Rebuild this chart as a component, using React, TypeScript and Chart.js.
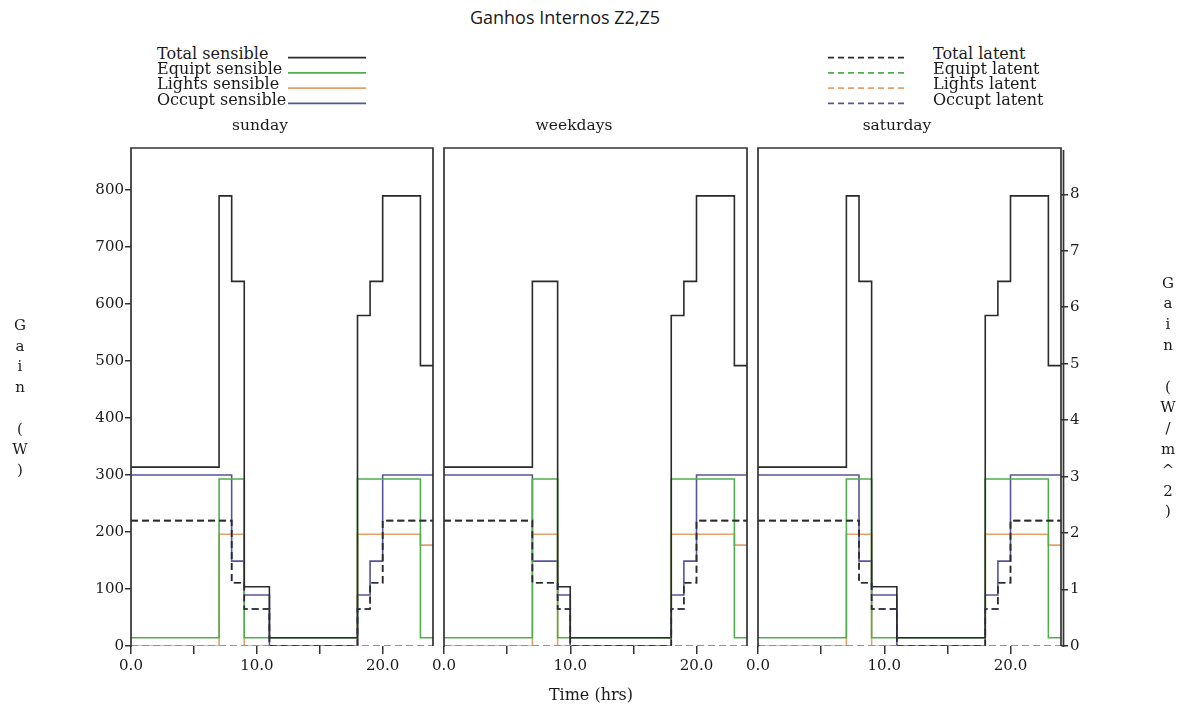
import React, { useEffect, useRef } from 'react';
import { Chart, registerables } from 'chart.js';

Chart.register(...registerables);

// ---------- text ----------
const FIG_TITLE = 'Ganhos Internos Z2,Z5';
const X_TITLE = 'Time (hrs)';
const Y_LEFT_TITLE = 'Gain (W)';
const Y_RIGHT_TITLE = 'Gain (W/m^2)';
const PANEL_TITLES = ['sunday', 'weekdays', 'saturday'];
const SENSIBLE_NAMES = ['Total sensible', 'Equipt sensible', 'Lights sensible', 'Occupt sensible'];
const LATENT_NAMES = ['Total latent', 'Equipt latent', 'Lights latent', 'Occupt latent'];

// ---------- ticks ----------
const X_TICKS = [0, 5, 10, 15, 20];
const X_LABELED = [0, 10, 20];
const Y_LEFT_TICKS = [0, 100, 200, 300, 400, 500, 600, 700, 800];
const Y_RIGHT_TICKS = [0, 1, 2, 3, 4, 5, 6, 7, 8];
const X_MAX = 24;
const Y_LEFT_MAX = 874;
const Y_RIGHT_MAX = 8.82;

// ---------- data: sunday / saturday schedule (step start hours, last = end of day) ----------
const WEEKEND_HOURS = [0, 7, 8, 9, 11, 18, 19, 20, 23, 24];
const WEEKEND_TOTAL_SENS = [314, 790, 640, 104, 14.6, 580, 640, 790, 492];
const WEEKEND_EQUIP_SENS = [14.6, 293, 293, 14.6, 14.6, 293, 293, 293, 14.6];
const WEEKEND_LIGHTS_SENS = [0, 196, 196, 0, 0, 196, 196, 196, 177];
const WEEKEND_OCCUP_SENS = [300, 300, 149, 89.5, 0, 89.5, 149, 300, 300];
const WEEKEND_TOTAL_LAT = [220, 220, 111, 65, 0, 65, 111, 220, 220];
const WEEKEND_EQUIP_LAT = [0, 0, 0, 0, 0, 0, 0, 0, 0];
const WEEKEND_LIGHTS_LAT = [0, 0, 0, 0, 0, 0, 0, 0, 0];
const WEEKEND_OCCUP_LAT = [220, 220, 111, 65, 0, 65, 111, 220, 220];

// ---------- data: weekdays schedule ----------
const WEEKDAY_HOURS = [0, 7, 9, 10, 18, 19, 20, 23, 24];
const WEEKDAY_TOTAL_SENS = [314, 640, 104, 14.6, 580, 640, 790, 492];
const WEEKDAY_EQUIP_SENS = [14.6, 293, 14.6, 14.6, 293, 293, 293, 14.6];
const WEEKDAY_LIGHTS_SENS = [0, 196, 0, 0, 196, 196, 196, 177];
const WEEKDAY_OCCUP_SENS = [300, 149, 89.5, 0, 89.5, 149, 300, 300];
const WEEKDAY_TOTAL_LAT = [220, 111, 65, 0, 65, 111, 220, 220];
const WEEKDAY_EQUIP_LAT = [0, 0, 0, 0, 0, 0, 0, 0];
const WEEKDAY_LIGHTS_LAT = [0, 0, 0, 0, 0, 0, 0, 0];
const WEEKDAY_OCCUP_LAT = [220, 111, 65, 0, 65, 111, 220, 220];

const DAYS = [
  {
    hours: WEEKEND_HOURS,
    sens: [WEEKEND_TOTAL_SENS, WEEKEND_EQUIP_SENS, WEEKEND_LIGHTS_SENS, WEEKEND_OCCUP_SENS],
    lat: [WEEKEND_TOTAL_LAT, WEEKEND_EQUIP_LAT, WEEKEND_LIGHTS_LAT, WEEKEND_OCCUP_LAT],
  },
  {
    hours: WEEKDAY_HOURS,
    sens: [WEEKDAY_TOTAL_SENS, WEEKDAY_EQUIP_SENS, WEEKDAY_LIGHTS_SENS, WEEKDAY_OCCUP_SENS],
    lat: [WEEKDAY_TOTAL_LAT, WEEKDAY_EQUIP_LAT, WEEKDAY_LIGHTS_LAT, WEEKDAY_OCCUP_LAT],
  },
  {
    hours: WEEKEND_HOURS,
    sens: [WEEKEND_TOTAL_SENS, WEEKEND_EQUIP_SENS, WEEKEND_LIGHTS_SENS, WEEKEND_OCCUP_SENS],
    lat: [WEEKEND_TOTAL_LAT, WEEKEND_EQUIP_LAT, WEEKEND_LIGHTS_LAT, WEEKEND_OCCUP_LAT],
  },
];

// ---------- style ----------
const SERIES_COLORS = ['#2a2a2a', '#52ad4f', '#e6a06a', '#55559c'];
const FRAME_COLOR = '#333333';
const TEXT_COLOR = '#1a1a1a';
const SERIF = "'DejaVu Serif', serif";
const DASH = [7, 4];

const CANVAS_TOP = 100;
const CANVAS_H = 611;
const PANELS = [
  { left: 0, w: 460, padL: 0, padR: 27 },
  { left: 420, w: 350, padL: 24, padR: 23 },
  { left: 735, w: 450, padL: 23, padR: 0 },
];

const toPoints = (hours: number[], vals: number[]) =>
  hours.map((h, i) => ({ x: h, y: vals[Math.min(i, vals.length - 1)] }));

const framePlugin = {
  id: 'panelFrame',
  afterDatasetsDraw(chart: any, _args: any, opts: any) {
    const { ctx } = chart;
    const { left, right, top, bottom } = chart.chartArea;
    ctx.save();
    ctx.strokeStyle = FRAME_COLOR;
    ctx.lineWidth = 1.7;
    ctx.beginPath();
    ctx.moveTo(left, bottom + 1);
    ctx.lineTo(left, top);
    ctx.lineTo(right, top);
    ctx.lineTo(right, bottom);
    ctx.stroke();
    if (opts && opts.axisLine) {
      ctx.beginPath();
      ctx.moveTo(right + 2.5, top + 2);
      ctx.lineTo(right + 2.5, bottom + 1);
      ctx.stroke();
    }
    ctx.restore();
  },
};

function makeConfig(idx: number): any {
  const day = DAYS[idx];
  const isFirst = idx === 0;
  const isLast = idx === 2;
  const geom = PANELS[idx];
  const datasets: any[] = [];
  for (let k = 0; k < 4; k++) {
    datasets.push({
      label: LATENT_NAMES[k],
      data: toPoints(day.hours, day.lat[k]),
      borderColor: SERIES_COLORS[k],
      borderDash: DASH,
      borderWidth: 1.6,
      stepped: 'before',
      pointRadius: 0,
      fill: false,
    });
  }
  for (let k = 0; k < 4; k++) {
    datasets.push({
      label: SENSIBLE_NAMES[k],
      data: toPoints(day.hours, day.sens[k]),
      borderColor: SERIES_COLORS[k],
      borderWidth: 1.6,
      stepped: 'before',
      pointRadius: 0,
      fill: false,
    });
  }
  const tickFont = { family: SERIF, size: 15 };
  const scales: any = {
    x: {
      type: 'linear',
      min: 0,
      max: X_MAX,
      afterBuildTicks: (s: any) => {
        s.ticks = X_TICKS.map((v) => ({ value: v }));
      },
      afterFit: (s: any) => {
        s.height = 65;
        s.paddingLeft = 0;
        s.paddingRight = 0;
      },
      grid: { drawOnChartArea: false, drawTicks: true, tickLength: 8, color: FRAME_COLOR, lineWidth: 1.5 },
      border: { display: false },
      ticks: {
        font: tickFont,
        color: TEXT_COLOR,
        padding: 3,
        maxRotation: 0,
        autoSkip: false,
        callback: (v: any) => (X_LABELED.includes(Number(v)) ? Number(v).toFixed(1) : ''),
      },
    },
    y: {
      type: 'linear',
      position: 'left',
      display: isFirst,
      min: 0,
      max: Y_LEFT_MAX,
      afterBuildTicks: (s: any) => {
        s.ticks = Y_LEFT_TICKS.map((v) => ({ value: v }));
      },
      afterFit: (s: any) => {
        s.width = isFirst ? 131 : 0;
        s.paddingTop = 0;
        s.paddingBottom = 0;
      },
      grid: { drawOnChartArea: false, drawTicks: true, tickLength: 6, color: FRAME_COLOR, lineWidth: 1.5 },
      border: { display: false },
      ticks: { font: tickFont, color: TEXT_COLOR, padding: 1, autoSkip: false },
    },
  };
  if (isLast) {
    scales.y2 = {
      type: 'linear',
      position: 'right',
      min: 0,
      max: Y_RIGHT_MAX,
      afterBuildTicks: (s: any) => {
        s.ticks = Y_RIGHT_TICKS.map((v) => ({ value: v }));
      },
      afterFit: (s: any) => {
        s.width = 124;
        s.paddingTop = 0;
        s.paddingBottom = 0;
      },
      grid: { drawOnChartArea: false, drawTicks: true, tickLength: 7, color: FRAME_COLOR, lineWidth: 1.5 },
      border: { display: false },
      ticks: { font: tickFont, color: TEXT_COLOR, padding: 2, autoSkip: false },
    };
  }
  return {
    type: 'line',
    data: { datasets },
    options: {
      animation: false,
      responsive: false,
      maintainAspectRatio: false,
      events: [],
      layout: { padding: { top: 48, bottom: 0, left: geom.padL, right: geom.padR } },
      plugins: {
        legend: { display: false },
        tooltip: { enabled: false },
        title: { display: false },
        panelFrame: { axisLine: isLast },
      },
      elements: { point: { radius: 0 }, line: { tension: 0 } },
      scales,
    },
    plugins: [framePlugin],
  };
}

const PANEL_TITLE_X = [260, 574, 897];

function StackedLabel({ text, x, top, lh }: { text: string; x: number; top: number; lh: number }) {
  return (
    <div
      style={{
        position: 'absolute',
        left: x - 15,
        top,
        width: 30,
        textAlign: 'center',
        fontFamily: SERIF,
        fontSize: 15,
        lineHeight: lh + 'px',
        color: TEXT_COLOR,
      }}
    >
      {text.split('').map((c, i) => (
        <div key={i}>{c === ' ' ? '\u00a0' : c}</div>
      ))}
    </div>
  );
}

export default function App() {
  const r0 = useRef<HTMLCanvasElement>(null);
  const r1 = useRef<HTMLCanvasElement>(null);
  const r2 = useRef<HTMLCanvasElement>(null);
  const refs = [r0, r1, r2];

  useEffect(() => {
    const charts = refs.map((r, i) => new Chart(r.current as HTMLCanvasElement, makeConfig(i)));
    return () => charts.forEach((c) => c.destroy());
  }, []);

  const legendTop = 45.8;
  const legendRow = 15.3;
  const lineY0 = 57.7;

  return (
    <div
      style={{
        position: 'fixed',
        left: 0,
        top: 0,
        width: 1185,
        height: 711,
        background: '#fff',
        overflow: 'hidden',
      }}
    >
      {PANELS.map((g, i) => (
        <canvas
          key={i}
          ref={refs[i]}
          width={g.w}
          height={CANVAS_H}
          style={{ position: 'absolute', left: g.left, top: CANVAS_TOP, width: g.w, height: CANVAS_H }}
        />
      ))}

      <div
        style={{
          position: 'absolute',
          left: 565 - 200,
          width: 400,
          top: 4,
          textAlign: 'center',
          fontFamily: "'Open Sans', sans-serif",
          fontSize: 18,
          lineHeight: '26px',
          color: TEXT_COLOR,
        }}
      >
        {FIG_TITLE}
      </div>

      {PANEL_TITLES.map((t, i) => (
        <div
          key={t}
          style={{
            position: 'absolute',
            left: PANEL_TITLE_X[i] - 100,
            width: 200,
            top: 115,
            textAlign: 'center',
            fontFamily: SERIF,
            fontSize: 15.5,
            lineHeight: '20px',
            color: TEXT_COLOR,
          }}
        >
          {t}
        </div>
      ))}

      {SENSIBLE_NAMES.map((n, i) => (
        <div
          key={n}
          style={{
            position: 'absolute',
            left: 157,
            top: legendTop + i * legendRow,
            fontFamily: SERIF,
            fontSize: 16,
            lineHeight: legendRow + 'px',
            whiteSpace: 'nowrap',
            color: TEXT_COLOR,
          }}
        >
          {n}
        </div>
      ))}
      {LATENT_NAMES.map((n, i) => (
        <div
          key={n}
          style={{
            position: 'absolute',
            left: 933,
            top: legendTop + i * legendRow,
            fontFamily: SERIF,
            fontSize: 16,
            lineHeight: legendRow + 'px',
            whiteSpace: 'nowrap',
            color: TEXT_COLOR,
          }}
        >
          {n}
        </div>
      ))}
      <svg width={1185} height={711} style={{ position: 'absolute', left: 0, top: 0, pointerEvents: 'none' }}>
        {SERIES_COLORS.map((c, i) => (
          <line key={'s' + i} x1={288} x2={366} y1={lineY0 + i * 15.2} y2={lineY0 + i * 15.2} stroke={c} strokeWidth={1.7} />
        ))}
        {SERIES_COLORS.map((c, i) => (
          <line
            key={'l' + i}
            x1={828}
            x2={907}
            y1={lineY0 + i * 15.2}
            y2={lineY0 + i * 15.2}
            stroke={c}
            strokeWidth={1.7}
            strokeDasharray="6 4"
          />
        ))}
      </svg>

      <div
        style={{
          position: 'absolute',
          left: 591 - 100,
          width: 200,
          top: 684.5,
          textAlign: 'center',
          fontFamily: SERIF,
          fontSize: 16,
          lineHeight: '20px',
          color: TEXT_COLOR,
        }}
      >
        {X_TITLE}
      </div>

      <StackedLabel text={Y_LEFT_TITLE} x={20} top={315} lh={20.7} />
      <StackedLabel text={Y_RIGHT_TITLE} x={1168} top={272.7} lh={20.8} />
    </div>
  );
}
